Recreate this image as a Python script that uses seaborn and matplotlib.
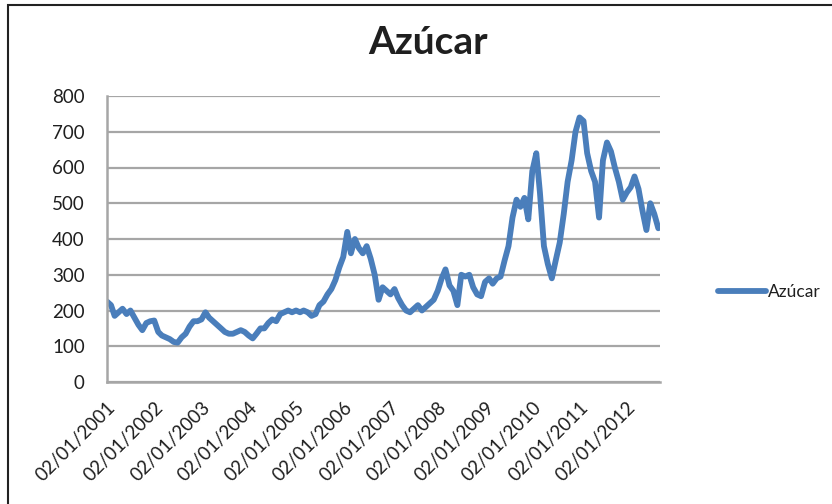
import pandas as pd
import matplotlib.pyplot as plt
import matplotlib.patches as mpatches
import seaborn as sns

# --- DATOS (lectura aproximada, un valor por mes, ene-2001 .. sep-2012) ---
PRECIO_2001 = [225, 215, 185, 195, 205, 190, 200, 180, 160, 145, 165, 170]
PRECIO_2002 = [172, 140, 130, 125, 120, 112, 110, 125, 135, 155, 170, 170]
PRECIO_2003 = [175, 195, 180, 170, 160, 150, 140, 135, 135, 140, 145, 140]
PRECIO_2004 = [130, 122, 135, 150, 150, 165, 175, 170, 190, 195, 200, 195]
PRECIO_2005 = [200, 195, 200, 195, 185, 190, 215, 225, 245, 260, 285, 320]
PRECIO_2006 = [350, 420, 360, 400, 375, 360, 380, 345, 300, 230, 265, 255]
PRECIO_2007 = [245, 260, 235, 215, 200, 195, 205, 215, 200, 210, 220, 230]
PRECIO_2008 = [255, 290, 315, 270, 255, 215, 300, 295, 300, 265, 245, 240]
PRECIO_2009 = [280, 290, 275, 290, 295, 340, 380, 460, 510, 490, 515, 455]
PRECIO_2010 = [590, 640, 530, 380, 330, 290, 340, 390, 470, 560, 620, 700]
PRECIO_2011 = [740, 730, 640, 590, 560, 460, 620, 670, 645, 600, 560, 510]
PRECIO_2012 = [530, 545, 575, 540, 480, 425, 500, 470, 430]

SERIE = "Azúcar"
YEARS = list(range(2001, 2013))
Y_TICKS = [0, 100, 200, 300, 400, 500, 600, 700, 800]

valores = (PRECIO_2001 + PRECIO_2002 + PRECIO_2003 + PRECIO_2004 + PRECIO_2005 +
           PRECIO_2006 + PRECIO_2007 + PRECIO_2008 + PRECIO_2009 + PRECIO_2010 +
           PRECIO_2011 + PRECIO_2012)
fechas = pd.date_range("2001-01-01", periods=len(valores), freq="MS") + pd.Timedelta(days=1)
df = pd.DataFrame({"Fecha": fechas, "Precio": valores})

# --- ESTILO ---
sns.set_style("white")
plt.rcParams["font.family"] = ["Lato", "DejaVu Sans"]

GRIS = "#a6a6a6"
TEXTO = "#1f1f1f"
AZUL = "#4a7ebb"

fig = plt.figure(figsize=(8.32, 5.04), dpi=100)
ax = fig.add_axes([107 / 832, 1 - 382 / 504, (660 - 107) / 832, (382 - 96) / 504])

sns.lineplot(data=df, x="Fecha", y="Precio", ax=ax, color=AZUL, linewidth=4.2,
             label=SERIE, legend=False)

ax.set_ylim(0, 800)
ax.set_yticks(Y_TICKS)
ax.set_xlim(pd.Timestamp("2001-01-02"), pd.Timestamp("2012-09-15"))
ticks = [pd.Timestamp(f"{y}-01-02") for y in YEARS]
ax.set_xticks(ticks)
ax.set_xticklabels([t.strftime("%d/%m/%Y") for t in ticks], rotation=45,
                   ha="right", rotation_mode="anchor")

ax.grid(axis="y", color=GRIS, linewidth=1.6)
ax.set_axisbelow(True)
for s in ["top", "right"]:
    ax.spines[s].set_visible(False)
for s in ["left", "bottom"]:
    ax.spines[s].set_color(GRIS)
    ax.spines[s].set_linewidth(1.8)
ax.tick_params(axis="both", direction="out", length=7, width=1.3, color=GRIS,
               labelsize=13.5, labelcolor=TEXTO)
ax.tick_params(axis="y", pad=9)
ax.tick_params(axis="x", pad=5)
ax.set_xlabel("")
ax.set_ylabel("")

# Titulo
fig.text(428 / 832, 1 - 43 / 504, SERIE, ha="center", va="center",
         fontsize=28, fontweight="bold", color=TEXTO)

# Leyenda
fig.legend(handles=[plt.Line2D([], [], color=AZUL, linewidth=4.2, label=SERIE)],
           loc="center left", bbox_to_anchor=(702 / 832, 1 - 292 / 504),
           frameon=False, fontsize=12.5, handlelength=2.8, handletextpad=0.1,
           labelcolor=TEXTO)

# Borde del area del grafico (recortado a derecha y abajo)
fig.patches.append(mpatches.Rectangle((8 / 832, -0.1), 1.2, 1.1 - 5 / 504,
                                      transform=fig.transFigure, fill=False,
                                      edgecolor="#222222", linewidth=1.5))

fig.savefig("out.png", dpi=100)
